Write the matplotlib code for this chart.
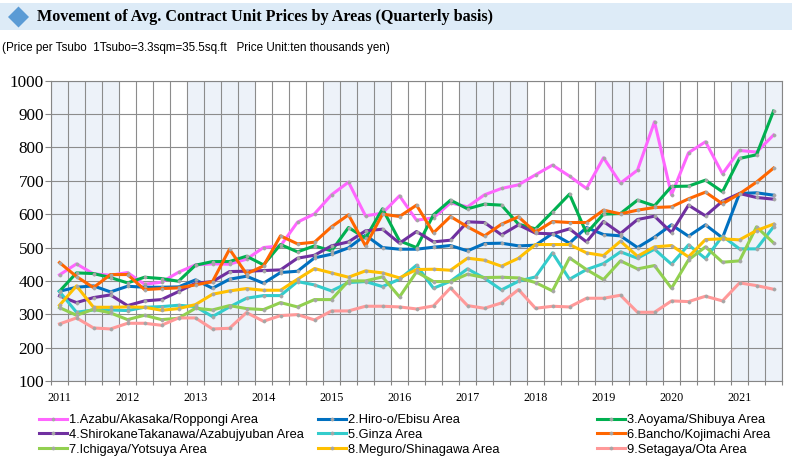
import matplotlib
matplotlib.use("Agg")
import matplotlib.pyplot as plt
from matplotlib.patches import Rectangle, Polygon
from matplotlib.lines import Line2D
from matplotlib.legend_handler import HandlerLine2D

# quarterly categories 2011Q1 .. 2021Q3
years = list(range(2011, 2022))
quarters = [f"{y}Q{q}" for y in years for q in range(1, 5)][:43]
year_labels = [str(y) for y in years]

azabu = [418, 451, 421, 417, 425, 390, 396, 426, 448, 451, 450, 465, 500, 505, 576, 601, 658, 696, 595, 603,
         655, 582, 589, 634, 622, 658, 677, 688, 718, 747, 714, 677, 769, 693, 732, 877, 658, 784, 817, 721,
         791, 786, 837]
hiroo = [369, 381, 385, 367, 384, 381, 381, 382, 403, 378, 405, 414, 393, 425, 429, 469, 480, 499, 537, 500,
         495, 495, 501, 506, 490, 512, 513, 505, 507, 542, 513, 560, 539, 535, 500, 531, 568, 534, 568, 529,
         662, 664, 657]
aoyama = [369, 424, 422, 410, 394, 411, 407, 399, 447, 458, 458, 474, 448, 509, 487, 505, 490, 560, 528, 616,
          520, 500, 598, 642, 616, 630, 627, 570, 556, 607, 660, 543, 600, 602, 642, 625, 683, 684, 702, 667,
          767, 778, 909]
shirokane = [355, 335, 350, 358, 326, 340, 344, 368, 393, 398, 428, 429, 431, 433, 468, 477, 505, 517, 550, 555,
             513, 548, 517, 522, 577, 575, 538, 568, 543, 541, 556, 517, 578, 542, 584, 594, 545, 627, 595, 639,
             662, 650, 645]
ginza = [368, 306, 313, 313, 311, 321, 323, 327, 323, 293, 322, 348, 356, 356, 398, 388, 370, 395, 398, 383,
         405, 447, 378, 399, 436, 408, 373, 399, 412, 484, 405, 434, 452, 487, 468, 495, 450, 508, 467, 534,
         496, 496, 562]
bancho = [455, 413, 380, 419, 419, 374, 377, 379, 388, 398, 495, 421, 445, 535, 511, 516, 562, 598, 505, 600,
          593, 627, 544, 593, 562, 535, 570, 592, 546, 578, 575, 575, 612, 601, 612, 620, 622, 646, 666, 631,
          661, 696, 738]
ichigaya = [320, 297, 315, 304, 284, 297, 284, 288, 318, 313, 326, 317, 314, 335, 322, 344, 344, 400, 400, 412,
            352, 427, 398, 398, 420, 410, 411, 409, 395, 370, 469, 434, 404, 460, 436, 446, 378, 463, 502, 456,
            460, 562, 514]
meguro = [327, 385, 321, 321, 322, 321, 312, 317, 329, 360, 370, 377, 372, 372, 405, 437, 424, 411, 430, 424,
          409, 434, 435, 432, 468, 462, 444, 468, 509, 509, 509, 484, 476, 519, 474, 502, 506, 472, 524, 526,
          523, 551, 570]
setagaya = [271, 289, 259, 256, 273, 273, 267, 289, 289, 256, 258, 305, 279, 296, 299, 283, 310, 310, 324, 324,
            322, 316, 325, 379, 326, 318, 334, 374, 318, 324, 322, 348, 348, 357, 306, 306, 340, 338, 354, 340,
            394, 386, 375]

series = [
    ("1.Azabu/Akasaka/Roppongi Area", azabu, "#FF66FF"),
    ("2.Hiro-o/Ebisu Area", hiroo, "#0070C0"),
    ("3.Aoyama/Shibuya Area", aoyama, "#00B050"),
    ("4.ShirokaneTakanawa/Azabujyuban Area", shirokane, "#7030A0"),
    ("5.Ginza Area", ginza, "#33CCCC"),
    ("6.Bancho/Kojimachi Area", bancho, "#FF6600"),
    ("7.Ichigaya/Yotsuya Area", ichigaya, "#92D050"),
    ("8.Meguro/Shinagawa Area", meguro, "#FFC000"),
    ("9.Setagaya/Ota Area", setagaya, "#FF9999"),
]

W, H = 798, 468
fig = plt.figure(figsize=(W / 100, H / 100), dpi=100)

# title bar
fig.patches.append(Rectangle((0, 1 - 30 / H), 792 / W, 27 / H, transform=fig.transFigure,
                             facecolor="#DDEBF7", edgecolor="none"))
cx, cy, r = 18.5, 17, 10.5
fig.patches.append(Polygon([((cx - r) / W, 1 - cy / H), (cx / W, 1 - (cy - r) / H),
                            ((cx + r) / W, 1 - cy / H), (cx / W, 1 - (cy + r) / H)],
                           closed=True, transform=fig.transFigure, facecolor="#5B9BD5", edgecolor="none"))
fig.text(37 / W, 1 - 17 / H, "Movement of Avg. Contract Unit Prices by Areas (Quarterly basis)",
         family="Liberation Serif", weight="bold", fontsize=11.6, va="center", ha="left")
fig.text(2 / W, 1 - 48 / H,
         "(Price per Tsubo  1Tsubo=3.3sqm=35.5sq.ft   Price Unit:ten thousands yen)",
         family="Liberation Sans", fontsize=8.4, va="center", ha="left")

ax = fig.add_axes([51 / W, (H - 381) / H, (782 - 51) / W, (381 - 80.7) / H])
n = len(quarters)
x = list(range(n))

# shaded odd years
for k in range(0, n, 8):
    ax.axvspan(k - 0.5, min(k + 3.5, n - 0.5), color="#EDF2F9", zorder=0, lw=0)

lines = []
for label, vals, color in series:
    ln, = ax.plot(x, vals, color=color, lw=2.2, marker="o", markersize=2.3, markeredgewidth=0.4,
                  markerfacecolor="#A6A6A6", markeredgecolor="#A6A6A6", label=label, zorder=3)
    lines.append(ln)

ax.set_xlim(-0.5, n - 0.5)
ax.set_ylim(100, 1000)
ax.set_yticks(range(100, 1001, 100))
ax.set_xticks(range(0, n, 4))
ax.set_xticklabels(year_labels, family="Liberation Serif", fontsize=8.7)
ax.set_xticks([i - 0.5 for i in range(n + 1)], minor=True)
for t in ax.get_yticklabels():
    t.set_family("Liberation Serif")
    t.set_fontsize(12.3)
ax.tick_params(axis="y", length=4, width=0.8, color="#868686", pad=1)
ax.tick_params(axis="x", which="major", length=0, pad=8)
ax.tick_params(axis="x", which="minor", length=3, width=0.8, color="#868686")
ax.grid(True, which="minor", axis="x", color="#8C8C8C", lw=0.8, zorder=1)
ax.grid(True, which="major", axis="y", color="#8C8C8C", lw=0.8, zorder=1)
ax.set_axisbelow(True)
for s in ax.spines.values():
    s.set_color("#868686")
    s.set_linewidth(0.8)

# legend: three columns, evenly spaced
for col, x0 in enumerate([39, 318, 597]):
    hs = [lines[col + 3 * r] for r in range(3)]
    fig.legend(hs, [h.get_label() for h in hs], loc="upper left",
               bbox_to_anchor=(x0 / W, 1 - 414 / H), frameon=False,
               prop={"family": "Liberation Sans", "size": 9.3},
               handlelength=2.2, handletextpad=0.1, labelspacing=0.22,
               borderpad=0, borderaxespad=0,
               handler_map={Line2D: HandlerLine2D(numpoints=1)})

fig.savefig("out.png", dpi=100)
